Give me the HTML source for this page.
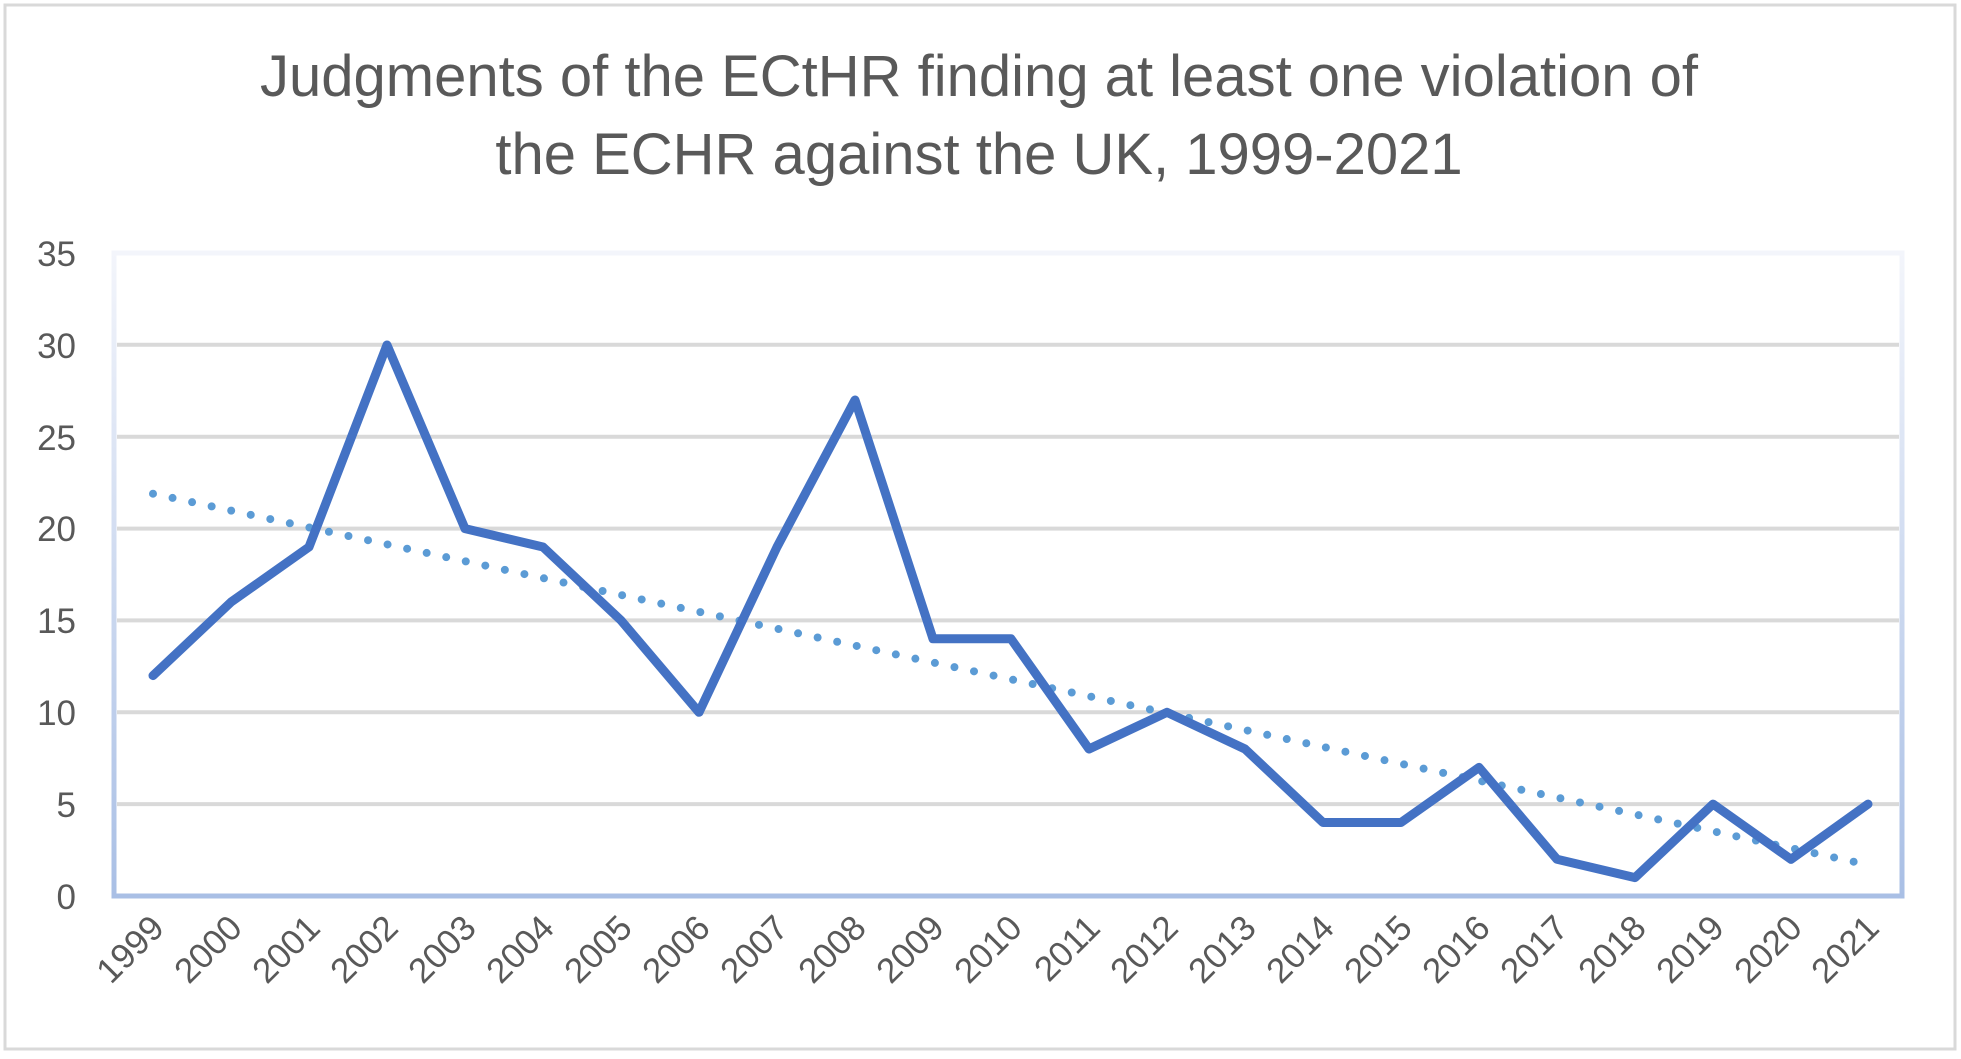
<!DOCTYPE html><html><head><style>body{margin:0;background:#fff}</style></head><body>
<svg width="1961" height="1054" xmlns="http://www.w3.org/2000/svg" font-family="Liberation Sans, sans-serif">
<defs><linearGradient id="g" x1="0" y1="0" x2="0" y2="1"><stop offset="0" stop-color="#f3f5fb"/><stop offset="1" stop-color="#a9bfe5"/></linearGradient></defs>
<rect x="5" y="5" width="1950" height="1044" fill="#fff" stroke="#d9d9d9" stroke-width="3"/>
<text x="979" y="96" font-size="58" fill="#595959" text-anchor="middle">Judgments of the ECtHR finding at least one violation of</text>
<text x="979" y="174" font-size="58" fill="#595959" text-anchor="middle">the ECHR against the UK, 1999-2021</text>
<rect x="114" y="253" width="1788" height="643" fill="none" stroke="url(#g)" stroke-width="5"/>
<g stroke="#d9d9d9" stroke-width="4">
<line x1="117" x2="1899" y1="344.8" y2="344.8"/><line x1="117" x2="1899" y1="436.7" y2="436.7"/><line x1="117" x2="1899" y1="528.6" y2="528.6"/><line x1="117" x2="1899" y1="620.4" y2="620.4"/><line x1="117" x2="1899" y1="712.3" y2="712.3"/><line x1="117" x2="1899" y1="804.1" y2="804.1"/></g>
<g font-size="35" fill="#595959" text-anchor="end">
<text x="76" y="909">0</text><text x="76" y="817">5</text><text x="76" y="725">10</text><text x="76" y="633">15</text><text x="76" y="541">20</text><text x="76" y="450">25</text><text x="76" y="358">30</text><text x="76" y="266">35</text></g>
<line x1="153" y1="493.7" x2="1868" y2="864.8" stroke="#5b9bd5" stroke-width="8" stroke-linecap="round" stroke-dasharray="0 20"/>
<polyline fill="none" stroke="#4472c4" stroke-width="9" stroke-linejoin="round" stroke-linecap="round" points="153,675.6 231,602.1 309,547 387,345 465,528.6 543,547 621,620.4 699,712.3 777,547 855,400 933,638.8 1011,638.8 1089,749 1167,712.3 1245,749 1323,822.5 1401,822.5 1479,767.4 1557,859.3 1635,877.6 1713,804.1 1791,859.3 1868,804.1"/>
<g font-size="35" fill="#595959" text-anchor="end">
<text transform="translate(166,930) rotate(-45)">1999</text><text transform="translate(244,930) rotate(-45)">2000</text><text transform="translate(322,930) rotate(-45)">2001</text><text transform="translate(400,930) rotate(-45)">2002</text><text transform="translate(478,930) rotate(-45)">2003</text><text transform="translate(556,930) rotate(-45)">2004</text><text transform="translate(634,930) rotate(-45)">2005</text><text transform="translate(712,930) rotate(-45)">2006</text><text transform="translate(790,930) rotate(-45)">2007</text><text transform="translate(868,930) rotate(-45)">2008</text><text transform="translate(946,930) rotate(-45)">2009</text><text transform="translate(1024,930) rotate(-45)">2010</text><text transform="translate(1102,930) rotate(-45)">2011</text><text transform="translate(1180,930) rotate(-45)">2012</text><text transform="translate(1258,930) rotate(-45)">2013</text><text transform="translate(1336,930) rotate(-45)">2014</text><text transform="translate(1414,930) rotate(-45)">2015</text><text transform="translate(1492,930) rotate(-45)">2016</text><text transform="translate(1570,930) rotate(-45)">2017</text><text transform="translate(1648,930) rotate(-45)">2018</text><text transform="translate(1726,930) rotate(-45)">2019</text><text transform="translate(1804,930) rotate(-45)">2020</text><text transform="translate(1881,930) rotate(-45)">2021</text></g>
</svg></body></html>
